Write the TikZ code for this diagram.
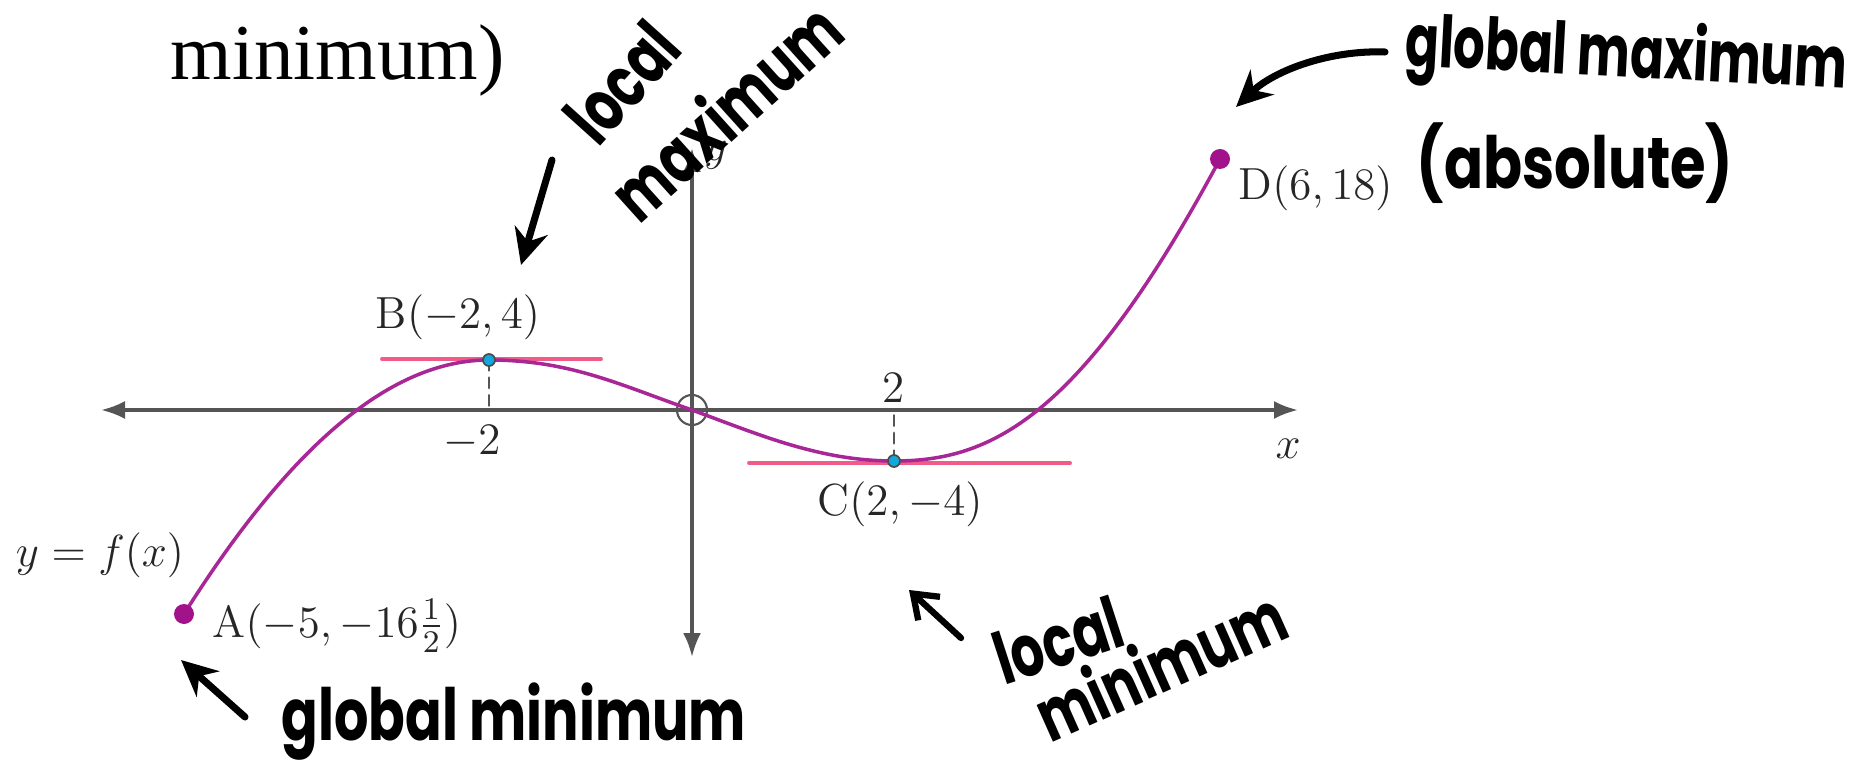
\RequirePackage{fix-cm}
\documentclass[tikz,border=0pt]{standalone}
\usepackage{fontspec}
\usepackage{graphicx}
\usetikzlibrary{arrows.meta}
\newfontfamily\hand{Poppins}
\newfontfamily\bookfont{Liberation Serif}
\definecolor{curvecol}{RGB}{168,38,150}
\definecolor{enddot}{RGB}{162,18,138}
\definecolor{tancol}{RGB}{240,92,135}
\definecolor{critdot}{RGB}{18,168,222}
\definecolor{axiscol}{RGB}{85,85,85}
\newcommand{\squeeze}[2][0.72]{\scalebox{#1}[1]{#2}}
\begin{document}
\begin{tikzpicture}[x=0.1mm, y=-0.1mm, line join=round, line cap=round,
	axis/.style={draw=axiscol, line width=1pt},
	lab/.style={font=\fontsize{12.8}{15}\selectfont, text=black!85, inner sep=0pt},
	hand/.style={font=\hand\bfseries\fontsize{20.5}{24}\selectfont, inner sep=0pt},
	note/.style={line width=2pt, -{Stealth[length=3.6mm,width=3.4mm]}},
	crit/.style={circle, fill=critdot, draw=black!70, line width=0.5pt, inner sep=0pt, minimum size=1.2mm},
	endpt/.style={circle, fill=enddot, inner sep=0pt, minimum size=2mm},
	tangent/.style={tancol, line width=1.1pt}]
	\useasboundingbox (0,0) rectangle (1861,762);
	\node[font=\bookfont\fontsize{22.5}{26}\selectfont, anchor=base west, inner sep=0pt] (title) at (170,80) {minimum)};
	% axes
	\coordinate (O) at (692,410);
	\coordinate (xl) at (101,410);
	\coordinate (xr) at (1298,410);
	\coordinate (yt) at (692,148);
	\coordinate (yb) at (692,657);
	\draw[axis, {Latex[length=2.4mm,width=1.8mm]}-{Latex[length=2.4mm,width=1.8mm]}] (xl) -- (xr);
	\draw[axis, {Latex[length=2.4mm,width=1.8mm]}-{Latex[length=2.4mm,width=1.8mm]}] (yb) -- (yt);
	\node[lab] (xlab) at (1288,449) {$x$};
	\node[lab] (ylab) at (716,155) {$y$};
	\draw[axiscol, line width=0.6pt] (O) circle (1.5mm);
	% the curve
	\coordinate (A) at (184,614);
	\coordinate (B) at (489,360);
	\coordinate (C) at (894,461);
	\coordinate (D) at (1220,159);
	\coordinate (tb1) at (382,359);
	\coordinate (tb2) at (601,359);
	\coordinate (tc1) at (749,463);
	\coordinate (tc2) at (1070,463);
	\draw[tangent] (tb1) -- (tb2);
	\draw[tangent] (tc1) -- (tc2);
	\draw[curvecol, line width=1pt] (A) .. controls (300,430) and (400,360) .. (B) .. controls (570,360) and (620,385) .. (O) .. controls (760,435) and (820,461) .. (C) .. controls (990,461) and (1080,420) .. (D);
	\draw[axiscol, line width=0.7pt, densely dashed] (B) -- (B |- O);
	\draw[axiscol, line width=0.7pt, densely dashed] (C) -- (C |- O);
	\node[crit] (Bdot) at (B) {};
	\node[crit] (Cdot) at (C) {};
	\node[endpt] (Adot) at (A) {};
	\node[endpt] (Ddot) at (D) {};
	% labels
	\node[lab] (Blab) at (458,317) {B$(-2,4)$};
	\node[lab] (Clab) at (900,504) {C$(2,-4)$};
	\node[lab, anchor=west] (Dlab) at (1238,188) {D$(6,18)$};
	\node[lab, anchor=west] (Alab) at (212,626) {A$(-5,-16\frac{1}{2})$};
	\node[lab] (flab) at (100,555) {$y=f(x)$};
	\node[lab] (mtwo) at (472,442) {$-2$};
	\node[lab] (two) at (893,388) {$2$};
	% handwritten notes
	\node[hand, rotate=-3] (gmax) at (1626,58) {\squeeze[0.69]{global maximum}};
	\node[hand] (abs) at (1575,163) {\squeeze[0.8]{(absolute)}};
	\coordinate (gmaxtail) at (1385,52);
	\coordinate (gmaxtip) at (1236,107);
	\draw[note] (gmaxtail) .. controls (1330,50) and (1275,70) .. (gmaxtip);
	\node[hand, rotate=48] (lmaxa) at (622,82) {\squeeze{local}};
	\node[hand, rotate=42] (lmaxb) at (725,110) {\squeeze{maximum}};
	\coordinate (lmaxtail) at (552,160);
	\coordinate (lmaxtip) at (521,265);
	\draw[note] (lmaxtail) -- (lmaxtip);
	\node[hand, anchor=west] (gmin) at (281,722) {\squeeze[0.75]{global minimum}};
	\coordinate (gmintail) at (245,717);
	\coordinate (gmintip) at (181,660);
	\draw[note] (gmintail) -- (gmintip);
	\node[hand, rotate=18] (lmina) at (1058,640) {\squeeze{local}};
	\node[hand, rotate=24, anchor=base west] (lminb) at (1050,744) {\squeeze{minimum}};
	\coordinate (lmintail) at (961,638);
	\coordinate (lmintip) at (909,590);
	\draw[line width=1.8pt, -{Straight Barb[length=2.2mm,width=3.2mm]}] (lmintail) -- (lmintip);
\end{tikzpicture}
\end{document}
